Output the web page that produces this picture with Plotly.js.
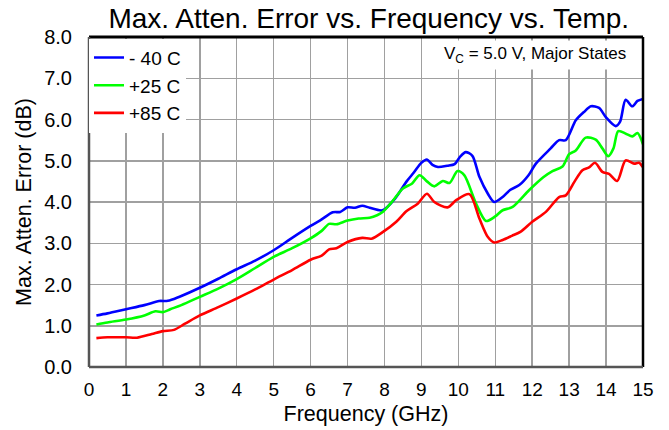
<!DOCTYPE html>
<html>
<head>
<meta charset="utf-8">
<script src="https://cdn.plot.ly/plotly-3.0.1.min.js"></script>
<style>html,body{margin:0;padding:0;background:#fff;}#chart{width:669px;height:430px;}</style>
</head>
<body>
<div id="chart"></div>
<script>
const seriesNames = ["- 40 C", "+25 C", "+85 C"];
const seriesColors = ["#0000ff", "#00ff00", "#ff0000"];

const xBlue = [0.2,0.5,1.0,1.5,1.9,2.1,2.3,2.5,3.0,3.5,4.0,4.5,5.0,5.5,6.0,6.3,6.6,6.8,7.0,7.2,7.4,7.6,7.95,8.3,8.6,8.8,9.0,9.15,9.3,9.45,9.7,9.9,10.05,10.2,10.38,10.57,10.8,10.97,11.2,11.4,11.65,11.9,12.1,12.5,12.73,12.91,13.18,13.4,13.59,13.81,14.0,14.26,14.38,14.53,14.71,14.85,15.0];
const yBlue = [1.25,1.30,1.40,1.50,1.60,1.60,1.65,1.72,1.92,2.14,2.37,2.58,2.83,3.13,3.42,3.58,3.75,3.76,3.87,3.86,3.91,3.86,3.80,4.10,4.50,4.72,4.95,5.03,4.90,4.85,4.88,4.92,5.10,5.21,5.12,4.61,4.20,4.00,4.12,4.29,4.41,4.65,4.93,5.30,5.50,5.50,5.98,6.18,6.32,6.28,6.05,5.84,5.95,6.48,6.32,6.45,6.50];

const xGreen = [0.2,0.5,1.0,1.5,1.8,2.0,2.2,2.5,3.0,3.5,4.0,4.5,5.0,5.5,6.0,6.3,6.5,6.7,7.0,7.3,7.6,7.8,7.95,8.2,8.5,8.75,8.95,9.15,9.35,9.58,9.76,9.98,10.16,10.48,10.75,11.0,11.2,11.47,11.92,12.3,12.55,12.82,13.0,13.18,13.45,13.72,13.9,14.06,14.2,14.33,14.55,14.71,14.85,15.0];
const yGreen = [1.03,1.08,1.15,1.25,1.35,1.33,1.40,1.50,1.70,1.90,2.13,2.40,2.67,2.88,3.12,3.30,3.47,3.46,3.55,3.60,3.62,3.68,3.76,4.00,4.33,4.45,4.65,4.50,4.38,4.51,4.46,4.75,4.65,3.96,3.54,3.65,3.80,3.88,4.29,4.60,4.75,4.86,5.16,5.25,5.56,5.51,5.30,5.11,5.30,5.72,5.65,5.59,5.67,5.40];

const xRed = [0.2,0.5,1.0,1.3,1.7,2.0,2.3,2.6,3.0,3.5,4.0,4.5,5.0,5.5,6.0,6.3,6.5,6.7,7.0,7.4,7.65,7.97,8.32,8.6,8.9,9.15,9.35,9.71,9.95,10.3,10.57,10.8,10.97,11.2,11.45,11.69,12.0,12.37,12.73,12.91,13.15,13.36,13.54,13.7,13.9,14.08,14.3,14.53,14.76,14.89,15.0];
const yRed = [0.70,0.72,0.72,0.71,0.80,0.87,0.90,1.05,1.25,1.45,1.66,1.88,2.12,2.35,2.60,2.70,2.85,2.88,3.03,3.13,3.11,3.28,3.52,3.78,3.96,4.20,4.00,3.87,4.05,4.19,3.60,3.15,3.02,3.08,3.18,3.28,3.52,3.76,4.12,4.16,4.50,4.77,4.84,4.95,4.73,4.68,4.51,5.01,4.93,4.95,4.84];

const xTicks = [0,1,2,3,4,5,6,7,8,9,10,11,12,13,14,15];
const yTicks = [0,1,2,3,4,5,6,7,8];

const xs = [xBlue, xGreen, xRed];
const ys = [yBlue, yGreen, yRed];
const traces = xs.map((x, i) => ({
  x: x, y: ys[i], name: seriesNames[i], type: 'scatter', mode: 'lines',
  line: {color: seriesColors[i], width: 2.6, shape: 'spline', smoothing: 0.8}
}));

const F = 'Liberation Sans, Arial, sans-serif';
const layout = {
  width: 669, height: 430,
  margin: {l: 89, r: 26, t: 37, b: 63},
  paper_bgcolor: '#fff', plot_bgcolor: '#fff',
  font: {family: F, color: '#000', size: 20},
  title: {text: 'Max. Atten. Error vs. Frequency vs. Temp.', font: {family: F, size: 28, color: '#000'},
          x: 0.505, xanchor: 'center', xref: 'paper', y: 0.958, yanchor: 'middle', yref: 'container'},
  xaxis: {range: [0, 15], tickvals: xTicks, ticktext: xTicks.map(String), showgrid: true, gridcolor: '#a0a0a0', gridwidth: 1.5,
          zeroline: false, showline: false, ticks: '', ticklabelstandoff: 9, tickfont: {size: 19, family: F},
          title: {text: 'Frequency (GHz)', font: {size: 21.5, family: F}, standoff: 6}},
  yaxis: {range: [0, 8], tickvals: yTicks, ticktext: yTicks.map(v => v.toFixed(1)), showgrid: true, gridcolor: '#a0a0a0', gridwidth: 1.5,
          zeroline: false, showline: false, ticks: '', ticklabelstandoff: 16, tickfont: {size: 20, family: F},
          title: {text: 'Max. Atten. Error (dB)', font: {size: 21.5, family: F}, standoff: 6}},
  showlegend: true,
  legend: {x: 0.0, y: 0.995, xanchor: 'left', yanchor: 'top', bgcolor: '#fff', borderwidth: 0,
           font: {size: 19, family: F}, tracegroupgap: 0, itemwidth: 30},
  annotations: [{xref: 'paper', yref: 'paper', x: 0.977, y: 0.99, xanchor: 'right', yanchor: 'top',
                 text: 'V<sub>C</sub> = 5.0 V, Major States', showarrow: false, bgcolor: '#fff',
                 font: {size: 17, family: F, color: '#000'}, borderpad: 3}],
  shapes: [
    {type: 'line', xref: 'paper', yref: 'paper', x0: 0, x1: 1, y0: 1, y1: 1, line: {color: '#000', width: 3}},
    {type: 'line', xref: 'paper', yref: 'paper', x0: 1, x1: 1, y0: 0, y1: 1, line: {color: '#000', width: 2.5}},
    {type: 'line', xref: 'paper', yref: 'paper', x0: 0, x1: 0, y0: 0, y1: 1, line: {color: '#555', width: 2.5}},
    {type: 'line', xref: 'paper', yref: 'paper', x0: 0, x1: 1, y0: 0, y1: 0, line: {color: '#555', width: 2.5}}
  ]
};
Plotly.newPlot('chart', traces, layout, {displayModeBar: false, staticPlot: true});
</script>
</body>
</html>
